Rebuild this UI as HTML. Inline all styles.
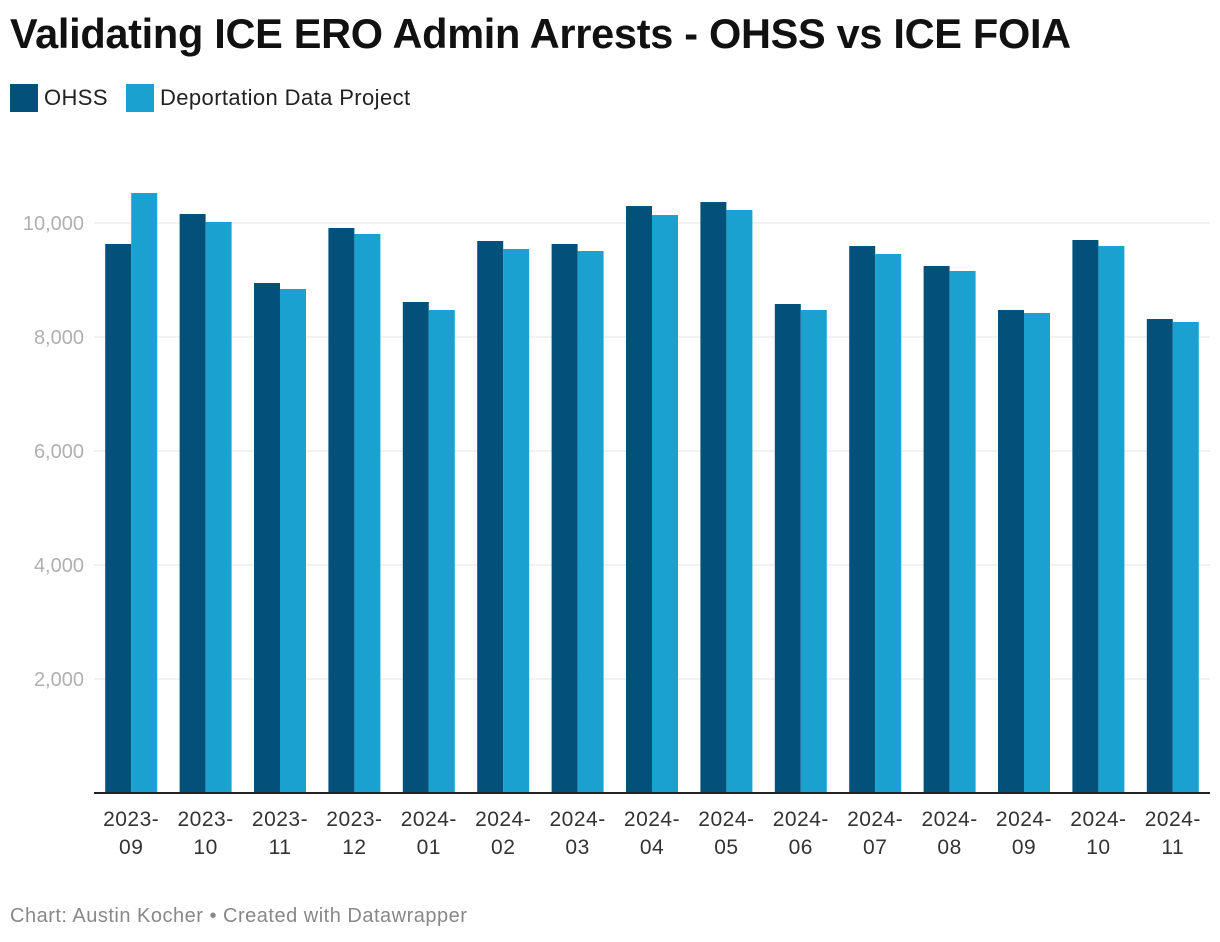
<!DOCTYPE html>
<html><head><meta charset="utf-8">
<style>
body{margin:0;background:#fff;font-family:"Liberation Sans",sans-serif;}
#wrap{position:relative;width:1220px;height:942px;overflow:hidden;}
h1{position:absolute;left:10px;top:10px;margin:0;font-size:41.5px;font-weight:bold;color:#111;letter-spacing:-0.3px;}
.leg{position:absolute;top:84px;font-size:22px;letter-spacing:0.4px;color:#222;display:flex;align-items:center;}
.sw{width:28px;height:28px;margin-right:6px;display:inline-block;}
.foot{position:absolute;left:10px;top:905px;font-size:20px;letter-spacing:0.5px;color:#888;}
</style></head><body>
<div id="wrap">
<h1>Validating ICE ERO Admin Arrests - OHSS vs ICE FOIA</h1>
<div class="leg" style="left:10px"><span class="sw" style="background:#03517b"></span>OHSS</div>
<div class="leg" style="left:126px"><span class="sw" style="background:#1aa1cf"></span>Deportation Data Project</div>
<svg id="chart" width="1220" height="942" style="position:absolute;left:0;top:0"></svg>
<div class="foot">Chart: Austin Kocher • Created with Datawrapper</div>
</div>
<script>
const categories=["2023-09","2023-10","2023-11","2023-12","2024-01","2024-02","2024-03","2024-04","2024-05","2024-06","2024-07","2024-08","2024-09","2024-10","2024-11"];
const ohss=[9632,10158,8947,9912,8614,9684,9632,10298,10368,8579,9596,9246,8474,9702,8316];
const ddp=[10526,10018,8842,9807,8474,9544,9509,10140,10228,8474,9456,9158,8421,9596,8263];
const yTicks=[2000,4000,6000,8000,10000];
const NS="http://www.w3.org/2000/svg";
const svg=document.getElementById('chart');
const x0=94,x1=1210,yBase=793,yTop=223;
const y=v=>yBase-(v/10000)*(yBase-yTop);
const band=(x1-x0)/categories.length;
function el(t,a){const e=document.createElementNS(NS,t);for(const k in a)e.setAttribute(k,a[k]);svg.appendChild(e);return e;}
yTicks.forEach(t=>{
 const g=el('line',{x1:x0,x2:x1,y1:y(t),y2:y(t),stroke:'#e3e3e3','stroke-width':1});
 
 
 const l=el('text',{x:84,y:y(t)+7,'text-anchor':'end','font-size':20,fill:'#b0b0b0','font-family':'Liberation Sans, sans-serif'});
 l.textContent=t.toLocaleString('en-US');
 
 
});
const bw=26;
categories.forEach((c,i)=>{
 const cx=x0+band*(i+0.5);
 const a=el('rect',{x:cx-bw,y:y(ohss[i]),width:bw,height:yBase-y(ohss[i]),fill:'#03517b'});
 
 
 const b=el('rect',{x:cx,y:y(ddp[i]),width:bw,height:yBase-y(ddp[i]),fill:'#1aa1cf'});
 
 
 const p=c.split('-');
 const t1=el('text',{x:cx,y:826,'text-anchor':'middle','font-size':21,'letter-spacing':0.5,fill:'#333','font-family':'Liberation Sans, sans-serif'});
 t1.textContent=p[0]+'-';
 
 
 const t2=el('text',{x:cx,y:854,'text-anchor':'middle','font-size':21,'letter-spacing':0.5,fill:'#333','font-family':'Liberation Sans, sans-serif'});
 t2.textContent=p[1];
 
 
});
const ax=el('line',{x1:x0,x2:x1,y1:yBase,y2:yBase,stroke:'#222','stroke-width':2});


</script>
</body></html>
